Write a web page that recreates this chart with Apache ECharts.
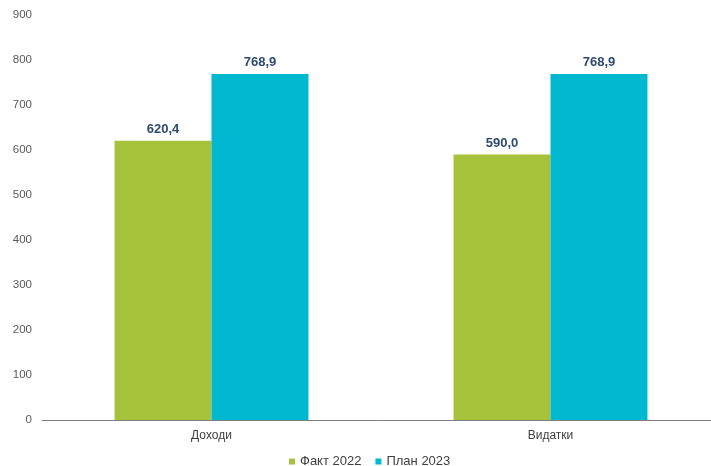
<!DOCTYPE html>
<html><head><meta charset="utf-8">
<script src="https://cdn.jsdelivr.net/npm/echarts@6/dist/echarts.min.js"></script>
<style>html,body{margin:0;padding:0;background:#fff}#c{width:711px;height:466px}</style>
</head><body><div id="c"></div>
<script>
const categories = ['Доходи', 'Видатки'];
const seriesNames = ['Факт 2022', 'План 2023'];
const fact2022 = [620.4, 590.0];
const plan2023 = [768.9, 768.9];
const colors = ['#A5C23A', '#00B8CF'];

const fmt = p => p.value.toFixed(1).replace('.', ',');
const chart = echarts.init(document.getElementById('c'));
const mk = (name, data, color) => ({
  name, type: 'bar', data, barGap: '0%', barCategoryGap: '42.8%',
  itemStyle: { color },
  label: { show: true, position: 'top', distance: 5, formatter: fmt,
    color: '#2E4A6E', fontWeight: 'bold', fontSize: 13, fontFamily: 'Liberation Sans, Arial' }
});
chart.setOption({
  animation: false,
  grid: { outerBoundsMode: 'none', left: 42, right: -9, top: 15, bottom: 46, containLabel: false },
  legend: { top: 450, left: 284, itemWidth: 6, itemHeight: 6, itemGap: 14,
    icon: 'rect', textStyle: { color: '#404040', fontSize: 13, fontFamily: 'Liberation Sans, Arial' },
    data: seriesNames },
  xAxis: { type: 'category', data: categories,
    axisLine: { lineStyle: { color: '#7F7F7F', width: 1 } },
    axisTick: { show: false },
    axisLabel: { color: '#404040', fontSize: 12, margin: 10, fontFamily: 'Liberation Sans, Arial' } },
  yAxis: { type: 'value', min: 0, max: 900, interval: 100,
    axisLine: { show: false }, axisTick: { show: false },
    splitLine: { show: false },
    axisLabel: { color: '#595959', fontSize: 11.5, margin: 10, fontFamily: 'Liberation Sans, Arial' } },
  series: [mk(seriesNames[0], fact2022, colors[0]), mk(seriesNames[1], plan2023, colors[1])]
});
</script></body></html>
